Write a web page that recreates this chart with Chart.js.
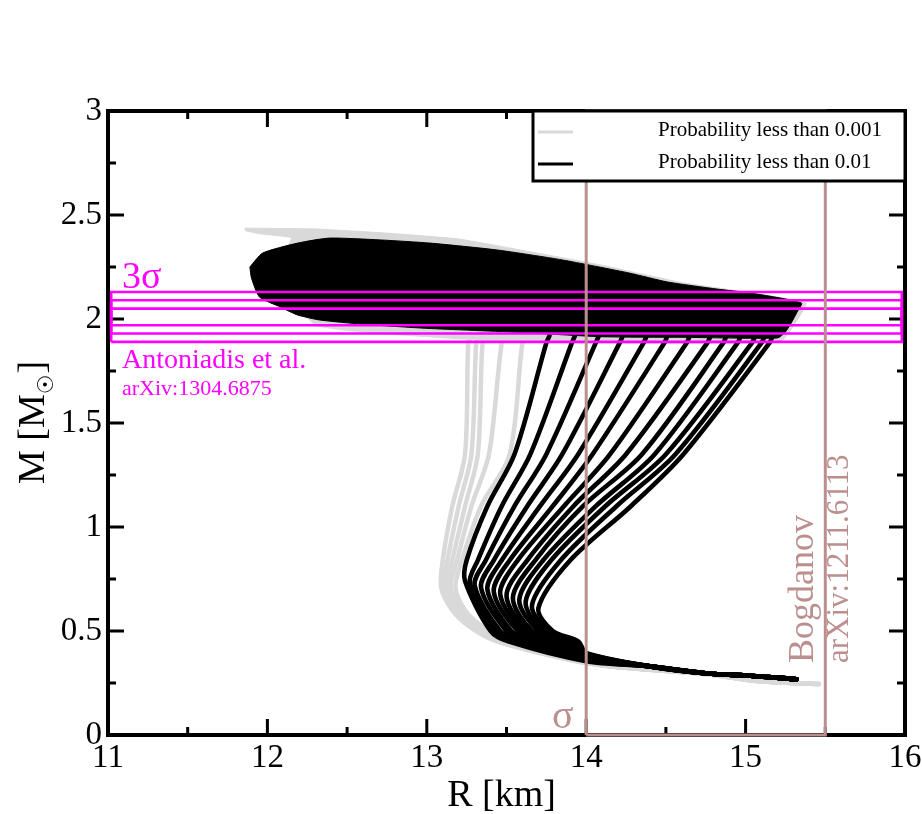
<!DOCTYPE html>
<html>
<head>
<meta charset="utf-8">
<script src="https://cdn.jsdelivr.net/npm/chart.js@4.4.1/dist/chart.umd.min.js"></script>
<style>
  html, body { margin: 0; padding: 0; background: #fff; }
</style>
</head>
<body>
<canvas id="mr" width="922" height="814"></canvas>
<script>
// axis ticks
const xTicks = [11, 12, 13, 14, 15, 16];
const yTicks = [0, 0.5, 1, 1.5, 2, 2.5, 3];

const upperM = [1.92, 1.885, 1.35, 1.1, 0.84];

// black curves (probability < 0.01), left -> right, R at each upper mass
const blackR192  = [13.77, 13.93, 14.08, 14.23, 14.38, 14.51, 14.65, 14.78, 14.88, 14.97, 15.06, 15.12, 15.17];
const blackR1885 = [13.75, 13.91, 14.06, 14.21, 14.36, 14.49, 14.63, 14.76, 14.86, 14.95, 15.04, 15.10, 15.15];
const blackR135  = [13.55, 13.65, 13.75, 13.85, 13.95, 14.04, 14.15, 14.25, 14.35, 14.43, 14.50, 14.56, 14.61];
const blackR110  = [13.38, 13.47, 13.55, 13.63, 13.71, 13.79, 13.86, 13.92, 13.98, 14.06, 14.12, 14.19, 14.28];
const blackR084  = [13.25, 13.32, 13.37, 13.42, 13.47, 13.52, 13.57, 13.63, 13.68, 13.73, 13.78, 13.84, 13.90];
const blackNoseR = [13.24, 13.27, 13.30, 13.34, 13.38, 13.42, 13.46, 13.50, 13.54, 13.58, 13.62, 13.66, 13.70];
const blackNoseM = [0.74, 0.73, 0.72, 0.71, 0.70, 0.69, 0.68, 0.67, 0.66, 0.65, 0.64, 0.625, 0.61];
const lowerM = [0.5, 0.45];
const blackR050  = [13.40, 13.43, 13.46, 13.50, 13.53, 13.57, 13.60, 13.63, 13.66, 13.70, 13.73, 13.76, 13.79];
const blackR045  = [13.51, 13.55, 13.58, 13.62, 13.66, 13.70, 13.74, 13.78, 13.82, 13.86, 13.89, 13.92, 13.95];
const blackNeckR = 14.0;
const blackNeckM = [0.355, 0.358, 0.362, 0.365, 0.368, 0.372, 0.375, 0.378, 0.382, 0.385, 0.388, 0.392, 0.395];
const tailR = [14.4, 14.76, 15.03, 15.32];
const tailM = [0.33, 0.296, 0.285, 0.268];

// grey curves (probability < 0.001)
const greyR192  = [13.28, 13.33, 13.38, 13.50, 13.63];
const greyR1885 = [13.26, 13.31, 13.35, 13.47, 13.60];
const greyR135  = [13.24, 13.28, 13.32, 13.39, 13.52];
const greyR110  = [13.16, 13.20, 13.24, 13.28, 13.34];
const greyR084  = [13.10, 13.13, 13.16, 13.19, 13.22];
const greyNoseR = [13.09, 13.11, 13.13, 13.15, 13.18];
const greyNoseM = [0.71, 0.71, 0.71, 0.71, 0.71];
const greyLowerM = [0.6, 0.52, 0.45];
const greyR060 = [13.16, 13.18, 13.20, 13.22, 13.24];
const greyR052 = [13.27, 13.29, 13.31, 13.33, 13.35];
const greyR045 = [13.44, 13.45, 13.46, 13.48, 13.50];
const greyNeckR = 13.9;
const greyNeckM = [0.36, 0.362, 0.365, 0.367, 0.37];
const greyTailR = [14.15, 14.76, 15.07, 15.46];
const greyTailM = [0.33, 0.292, 0.26, 0.245];

// high-mass branch, outline of the dense regions
const blackTopR = [11.89, 11.97, 12.19, 12.39, 12.71, 13.02, 13.44, 13.85, 14.27, 14.51, 14.82, 15.03, 15.35, 15.32, 15.29, 15.25, 15.20, 14.60, 14.09, 13.60, 13.00, 12.60, 12.33, 12.19, 12.08, 11.95, 11.90];
const blackTopM = [2.25, 2.317, 2.365, 2.389, 2.38, 2.365, 2.332, 2.284, 2.221, 2.178, 2.144, 2.125, 2.077, 2.029, 1.986, 1.938, 1.909, 1.912, 1.915, 1.935, 1.955, 1.975, 1.995, 2.019, 2.058, 2.106, 2.197];
const greyTopR = [11.86, 12.30, 12.75, 13.20, 13.60, 14.10, 14.60, 15.10, 15.38, 15.22, 14.50, 13.60, 12.90, 12.50, 12.30, 12.15, 12.10, 12.15, 11.95, 11.86];
const greyTopM = [2.437, 2.433, 2.413, 2.385, 2.33, 2.258, 2.175, 2.118, 2.075, 1.89, 1.883, 1.888, 1.92, 1.945, 1.97, 2.10, 2.30, 2.39, 2.41, 2.425];

// Antoniadis et al. 1, 2, 3 sigma bands
const bandLow = [1.97, 1.93, 1.89];
const bandHigh = [2.05, 2.09, 2.13];
const bandR = [11.02, 15.98];

// Bogdanov radius box
const boxR = [14, 15.5];
const boxM = [0, 3];

const legendLabels = ['Probability less than 0.001', 'Probability less than 0.01'];
const GREY = '#d9d9d9';
const MAGENTA = '#ff00ff';
const BROWN = '#bc8f8f';
const SERIF = "'Liberation Serif', 'DejaVu Serif', serif";

const blackLevels = [blackR192, blackR1885, blackR135, blackR110, blackR084];
const blackLower = [blackR050, blackR045];
const greyLevels = [greyR192, greyR1885, greyR135, greyR110, greyR084];
const greyLower = [greyR060, greyR052, greyR045];

function lineSet(points, color, width, tension) {
    return {
        data: points, showLine: true, borderColor: color, borderWidth: width,
        pointRadius: 0, tension: tension, fill: false,
        borderCapStyle: 'round', borderJoinStyle: 'round'
    };
}

function polySet(rs, ms, color, tension) {
    const pts = rs.map((r, i) => ({ x: r, y: ms[i] }));
    pts.push(pts[0]);
    return {
        data: pts, showLine: true, borderColor: color, backgroundColor: color,
        borderWidth: 1, pointRadius: 0, tension: tension, fill: 'shape'
    };
}

function rectSet(r0, r1, m0, m1, color, width) {
    const pts = [{ x: r0, y: m0 }, { x: r0, y: m1 }, { x: r1, y: m1 }, { x: r1, y: m0 }, { x: r0, y: m0 }];
    const ds = lineSet(pts, color, width, 0);
    ds.borderCapStyle = 'butt';
    ds.borderJoinStyle = 'miter';
    return ds;
}

// bottom layer first
const layers = [];

greyNoseR.forEach((_, i) => {
    const pts = [
        ...upperM.map((m, k) => ({ x: greyLevels[k][i], y: m })),
        { x: greyNoseR[i], y: greyNoseM[i] },
        ...greyLowerM.map((m, k) => ({ x: greyLower[k][i], y: m })),
        { x: greyNeckR, y: greyNeckM[i] },
        ...greyTailR.map((r, k) => ({ x: r, y: greyTailM[k] }))
    ];
    layers.push(lineSet(pts, GREY, 4.5, 0.3));
});
layers.push(polySet(greyTopR, greyTopM, GREY, 0.1));

blackNoseR.forEach((_, i) => {
    const pts = [
        ...upperM.map((m, k) => ({ x: blackLevels[k][i], y: m })),
        { x: blackNoseR[i], y: blackNoseM[i] },
        ...lowerM.map((m, k) => ({ x: blackLower[k][i], y: m })),
        { x: blackNeckR, y: blackNeckM[i] },
        ...tailR.map((r, k) => ({ x: r, y: tailM[k] }))
    ];
    layers.push(lineSet(pts, '#000', 4.6, 0.3));
});
layers.push(polySet(blackTopR, blackTopM, '#000', 0.2));

bandLow.forEach((lo, i) => {
    layers.push(rectSet(bandR[0], bandR[1], lo, bandHigh[i], MAGENTA, 2.6));
});

const box = rectSet(boxR[0], boxR[1], boxM[0], boxM[1], BROWN, 3);
box.clip = false;
layers.push(box);

layers.forEach((ds, i) => { ds.order = layers.length - i; });

function minorsOf(ticks) {
    const out = [];
    for (let i = 0; i < ticks.length - 1; i++) out.push((ticks[i] + ticks[i + 1]) / 2);
    return out;
}

function drawText(ctx, text, px, py, size, color, rot) {
    ctx.save();
    ctx.translate(px, py);
    if (rot) ctx.rotate(rot);
    ctx.font = size + 'px ' + SERIF;
    ctx.fillStyle = color;
    ctx.textAlign = 'left';
    ctx.textBaseline = 'alphabetic';
    ctx.fillText(text, 0, 0);
    ctx.restore();
}

const decor = {
    id: 'decor',
    beforeDatasetsDraw(chart) {
        const { ctx, chartArea: a, scales: { x, y } } = chart;
        ctx.save();
        ctx.strokeStyle = '#000';
        ctx.lineWidth = 3;
        const major = 16, minor = 8;
        const xs = [...xTicks.map(v => [v, major]), ...minorsOf(xTicks).map(v => [v, minor])];
        const ys = [...yTicks.map(v => [v, major]), ...minorsOf(yTicks).map(v => [v, minor])];
        ctx.beginPath();
        xs.forEach(([v, len]) => {
            const px = x.getPixelForValue(v);
            ctx.moveTo(px, a.bottom); ctx.lineTo(px, a.bottom - len);
            ctx.moveTo(px, a.top); ctx.lineTo(px, a.top + len);
        });
        ys.forEach(([v, len]) => {
            const py = y.getPixelForValue(v);
            ctx.moveTo(a.left, py); ctx.lineTo(a.left + len, py);
            ctx.moveTo(a.right, py); ctx.lineTo(a.right - len, py);
        });
        ctx.stroke();
        ctx.lineWidth = 4;
        ctx.strokeRect(a.left, a.top, a.right - a.left, a.bottom - a.top);
        ctx.restore();
    },
    afterDatasetsDraw(chart) {
        const { ctx, chartArea: a, scales: { x, y } } = chart;

        // legend box in the top-right corner
        const lw = 372, lh = 70;
        const lx = a.right - lw, ly = a.top;
        ctx.save();
        ctx.fillStyle = '#fff';
        ctx.fillRect(lx, ly, lw, lh);
        ctx.strokeStyle = '#000';
        ctx.lineWidth = 3;
        ctx.strokeRect(lx, ly, lw, lh);
        [GREY, '#000'].forEach((c, i) => {
            const yy = ly + 21 + i * 32;
            ctx.strokeStyle = c;
            ctx.lineWidth = 3;
            ctx.beginPath();
            ctx.moveTo(lx + 5, yy); ctx.lineTo(lx + 40, yy);
            ctx.stroke();
            drawText(ctx, legendLabels[i], lx + 125, yy + 4, 21, '#000');
        });
        ctx.restore();

        // annotations
        const px = v => x.getPixelForValue(v);
        const py = v => y.getPixelForValue(v);
        drawText(ctx, '3σ', px(11.088), py(2.149), 38, MAGENTA);
        drawText(ctx, 'Antoniadis et al.', px(11.088), py(1.764), 28, MAGENTA);
        drawText(ctx, 'arXiv:1304.6875', px(11.088), py(1.635), 22, MAGENTA);
        drawText(ctx, 'σ', px(13.785), py(0.034), 40, BROWN);
        drawText(ctx, 'Bogdanov', px(15.423), py(0.346), 36, BROWN, -Math.PI / 2);
        drawText(ctx, 'arXiv:1211.6113', px(15.643), py(0.346), 31, BROWN, -Math.PI / 2);

        // axis titles
        ctx.save();
        ctx.fillStyle = '#000';
        ctx.font = '38px ' + SERIF;
        ctx.textAlign = 'center';
        ctx.textBaseline = 'alphabetic';
        ctx.fillText('R [km]', (a.left + a.right) / 2 - 5, 806);
        ctx.restore();

        ctx.save();
        const cy = (a.top + a.bottom) / 2;
        ctx.translate(44, cy);
        ctx.rotate(-Math.PI / 2);
        ctx.fillStyle = '#000';
        ctx.textBaseline = 'alphabetic';
        ctx.font = '38px ' + SERIF;
        const w1 = ctx.measureText('M [M').width;
        const w3 = ctx.measureText(']').width;
        ctx.font = "22px 'DejaVu Sans', sans-serif";
        const w2 = ctx.measureText('☉').width;
        const x0 = -(w1 + w2 + w3) / 2;
        ctx.font = '38px ' + SERIF;
        ctx.fillText('M [M', x0, 0);
        ctx.fillText(']', x0 + w1 + w2 + 1, 0);
        ctx.font = "22px 'DejaVu Sans', sans-serif";
        ctx.fillText('☉', x0 + w1, 9);
        ctx.restore();
    }
};

new Chart(document.getElementById('mr'), {
    type: 'scatter',
    data: { datasets: layers },
    options: {
        responsive: false,
        animation: false,
        devicePixelRatio: 1,
        layout: { padding: { top: 111, right: 17, left: 0, bottom: 0 } },
        plugins: { legend: { display: false }, tooltip: { enabled: false } },
        scales: {
            x: {
                type: 'linear', min: 11, max: 16,
                grid: { display: false, drawTicks: false },
                border: { display: false },
                afterBuildTicks: s => { s.ticks = xTicks.map(v => ({ value: v })); },
                afterFit: s => { s.height = 79; s.paddingLeft = 0; s.paddingRight = 0; },
                ticks: {
                    font: { family: SERIF, size: 33 }, color: '#000',
                    padding: 4, maxRotation: 0, autoSkip: false,
                    callback: v => String(v)
                }
            },
            y: {
                type: 'linear', min: 0, max: 3,
                grid: { display: false, drawTicks: false },
                border: { display: false },
                afterBuildTicks: s => { s.ticks = yTicks.map(v => ({ value: v })); },
                afterFit: s => { s.width = 108; s.paddingTop = 0; s.paddingBottom = 0; },
                ticks: {
                    font: { family: SERIF, size: 33 }, color: '#000',
                    padding: 6, autoSkip: false,
                    callback: v => String(v)
                }
            }
        }
    },
    plugins: [decor]
});
</script>
</body>
</html>
